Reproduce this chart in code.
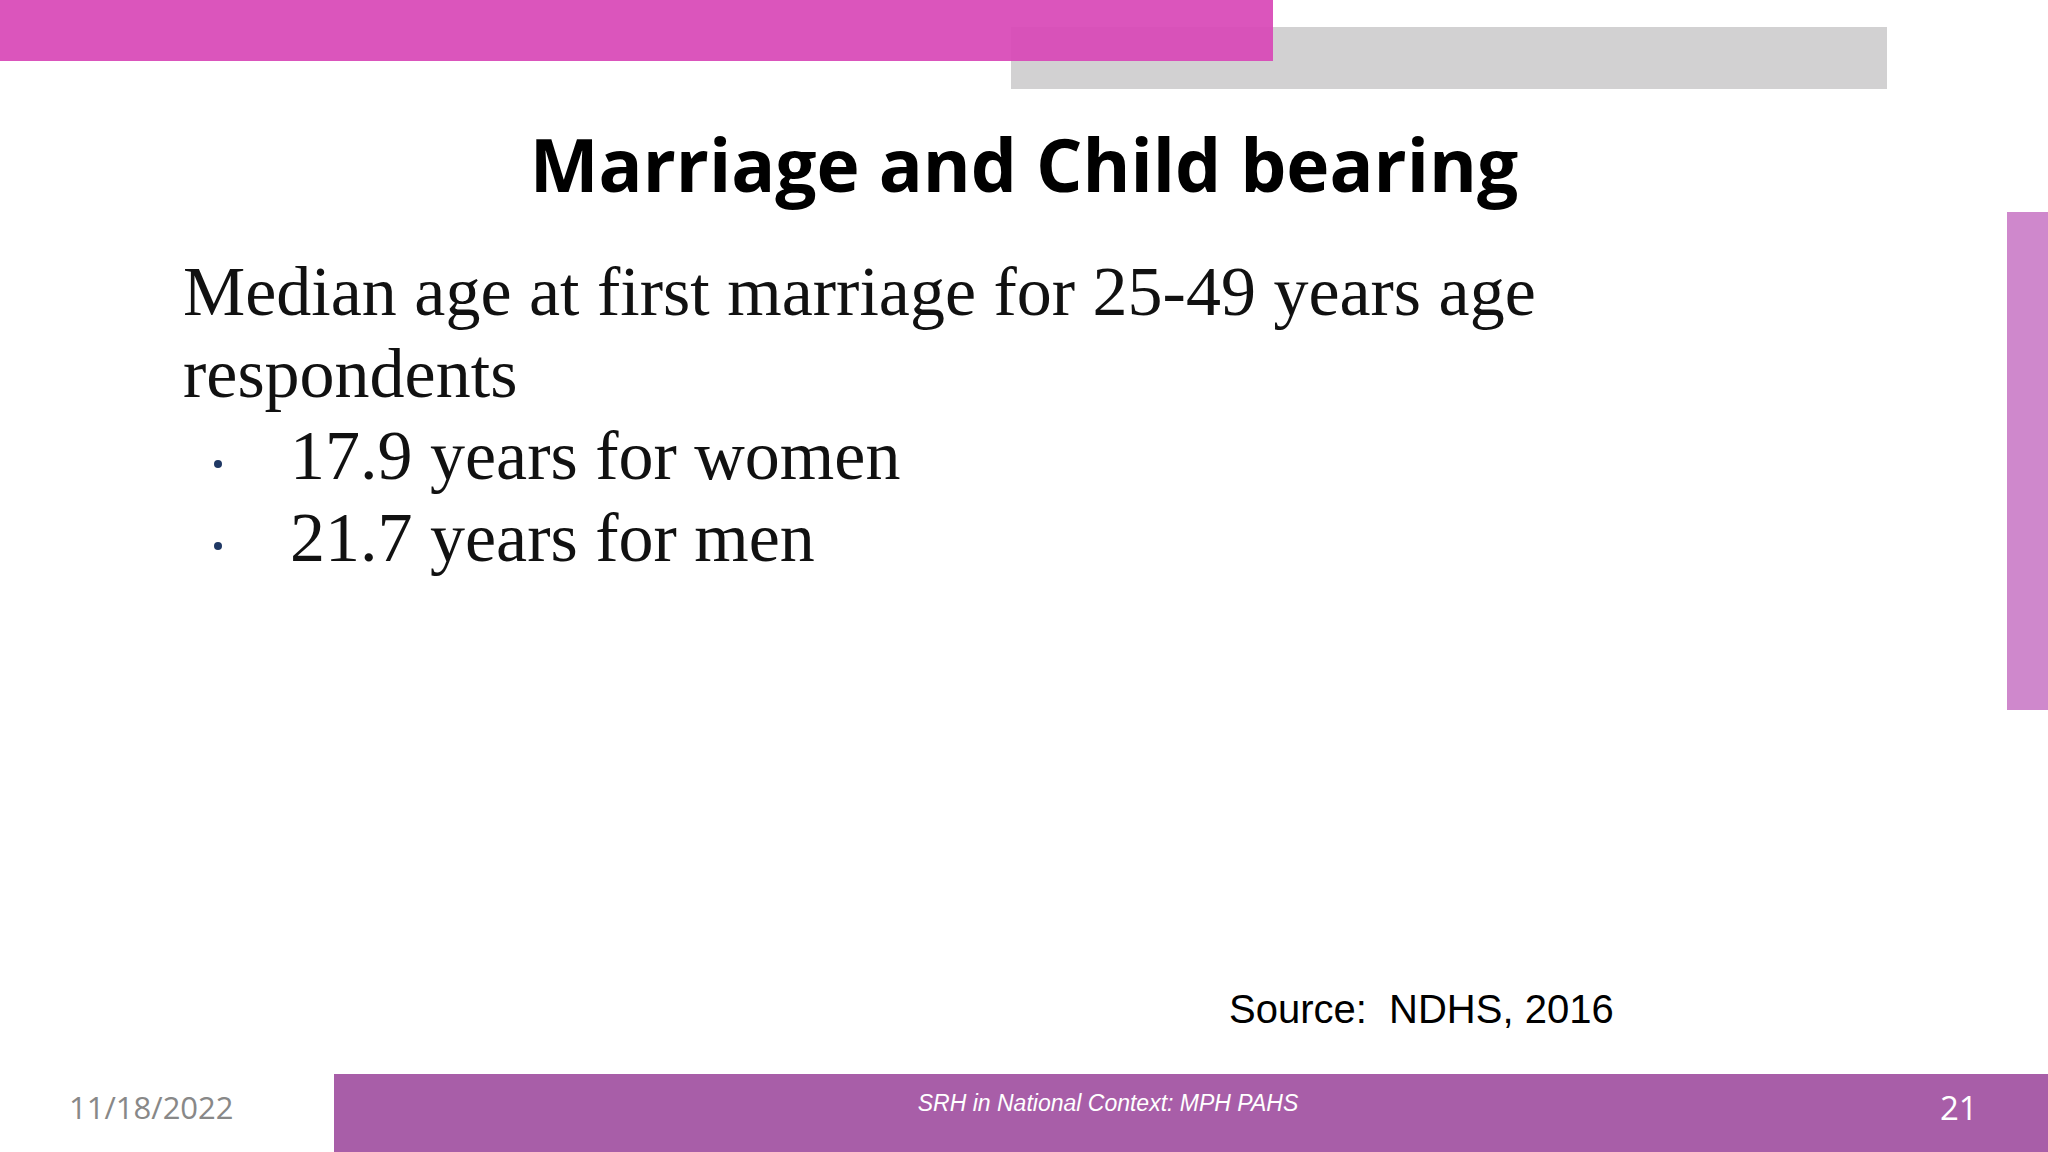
<!DOCTYPE html>
<html><head><meta charset="utf-8">
<script src="https://cdn.jsdelivr.net/npm/chart.js@4"></script>
<style>
html,body{margin:0;padding:0;width:2048px;height:1152px;overflow:hidden;background:#fff;position:relative}
div{position:absolute;white-space:nowrap}
.serif{font-family:"Liberation Serif","DejaVu Serif",serif;color:#111}
</style></head><body>
<div style="left:1011px;top:27px;width:876px;height:62px;background:#d2d1d2"></div>
<div style="left:0;top:0;width:1273px;height:61px;background:rgba(216,70,182,0.92)"></div>
<div style="left:2007px;top:212px;width:41px;height:498px;background:#cf88cc"></div>
<div id="title" style="left:0;width:2048px;text-align:center;top:114px;font-family:'Open Sans',sans-serif;font-weight:700;font-size:73px;color:#000;line-height:100px">Marriage and Child bearing</div>
<div id="body"></div>
<div style="left:1229px;top:987px;font-family:'Liberation Sans',Arial,sans-serif;font-size:40px;color:#000">Source:&nbsp; NDHS, 2016</div>
<div style="left:334px;top:1074px;width:1714px;height:78px;background:#a85ea8"></div>
<div style="left:69px;top:1086px;font-family:'Open Sans',sans-serif;font-size:31px;color:#888">11/18/2022</div>
<div style="left:334px;width:1548px;text-align:center;top:1090px;font-family:'Liberation Sans',Arial,sans-serif;font-style:italic;font-size:23px;color:#fff">SRH in National Context: MPH PAHS</div>
<div style="left:1940px;top:1085px;font-family:'Open Sans',sans-serif;font-size:33px;color:#fff">21</div>
<script>
const introLines = ["Median age at first marriage for 25-49 years age","respondents"];
const groups = ["women","men"];
const medianAges = [17.9, 21.7];
const bodyEl = document.getElementById('body');
let y = 252;
introLines.forEach(t=>{const d=document.createElement('div');d.className='serif';d.style.cssText=`left:183px;top:${y}px;font-size:70px;line-height:80px`;d.textContent=t;bodyEl.appendChild(d);y+=82;});
groups.forEach((g,i)=>{
 const b=document.createElement('div');b.style.cssText=`left:214px;top:${y+44}px;width:8px;height:8px;border-radius:50%;background:#1f3864`;bodyEl.appendChild(b);
 const d=document.createElement('div');d.className='serif';d.style.cssText=`left:290px;top:${y}px;font-size:70px;line-height:80px`;d.textContent=medianAges[i].toFixed(1)+" years for "+g;bodyEl.appendChild(d);y+=82;
});
</script>
</body></html>
